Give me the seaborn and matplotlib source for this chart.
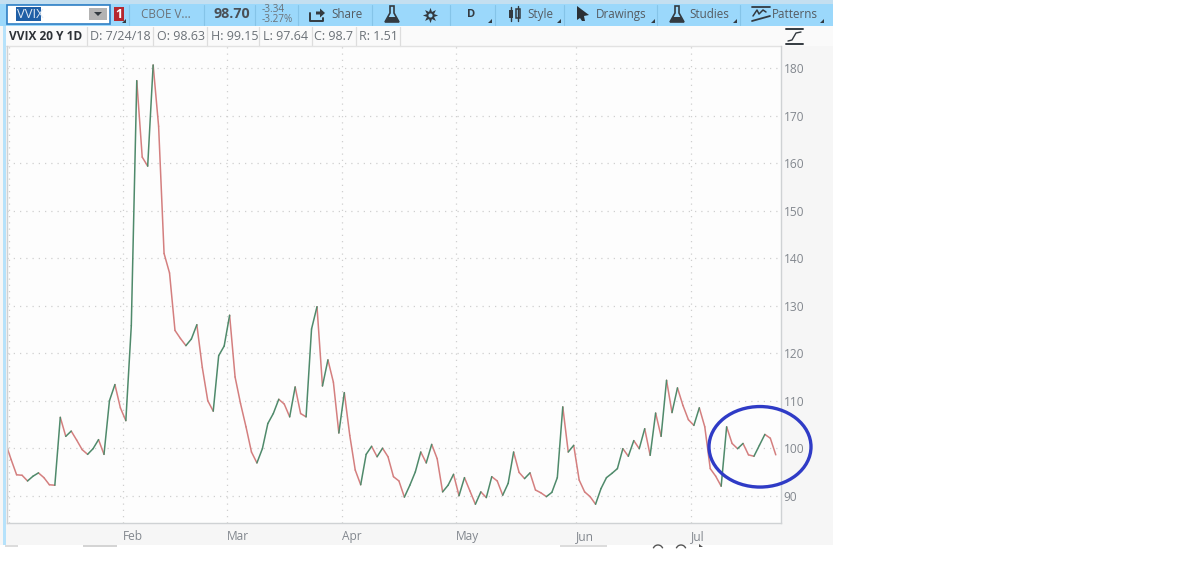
import numpy as np
import pandas as pd
import matplotlib
matplotlib.use('Agg')
import matplotlib.pyplot as plt
import matplotlib.patches as mpatches
import seaborn as sns

# VVIX daily closes
vvix = [101.0, 97.6, 94.4, 94.3, 93.1, 94.1, 94.8, 93.8, 92.3, 92.2,
        106.5, 102.5, 103.6, 101.7, 99.7, 98.7, 99.9, 101.8, 98.7, 110.0,
        113.4, 108.5, 105.8, 125.8, 177.4, 161.3, 159.4, 180.7, 167.8, 141.0,
        136.9, 124.8, 123.1, 121.6, 123.0, 126.0, 117.0, 110.0, 107.8, 119.5,
        121.5, 128.0, 115.0, 109.4, 104.5, 99.2, 96.9, 99.9, 105.2, 107.3,
        110.3, 109.3, 106.6, 112.9, 107.3, 106.6, 125.1, 129.8, 113.1, 118.6,
        113.9, 103.2, 111.7, 102.7, 95.4, 92.3, 98.7, 100.4, 98.2, 100.0,
        98.2, 94.0, 93.1, 89.7, 92.2, 95.0, 99.2, 96.9, 100.8, 97.8,
        90.8, 92.2, 94.5, 90.0, 93.8, 91.0, 88.2, 90.8, 89.6, 94.0,
        93.1, 90.1, 92.6, 99.2, 94.9, 93.6, 94.8, 91.2, 90.6, 89.8,
        90.7, 93.8, 108.7, 99.2, 100.6, 93.3, 90.8, 89.8, 88.2, 91.5,
        93.8, 94.7, 95.7, 99.9, 98.3, 101.6, 99.9, 104.1, 98.5, 107.4,
        102.5, 114.3, 107.5, 112.7, 109.0, 106.0, 104.8, 108.5, 104.5, 95.7,
        94.1, 92.0, 104.5, 101.0, 99.9, 101.0, 98.6, 98.3, 100.6, 102.9,
        102.1, 98.6]
month_labels = ['Feb', 'Mar', 'Apr', 'May', 'Jun', 'Jul']
month_ticks = [21.5, 40.5, 61.5, 82.5, 104.5, 125.5]
y_ticks = [90, 100, 110, 120, 130, 140, 150, 160, 170, 180]

W, H = 1200, 586
UP = '#4f8a6b'
DOWN = '#d47f7f'
GRID = '#cfcfcf'
LABEL = '#82878e'
TEXT = '#6b7177'
BAR = '#9bd8fb'
DARK = '#333a40'

# one pair of rows per segment so that every segment gets its own colour
rows = []
for i in range(len(vvix) - 1):
    d = 'up' if vvix[i + 1] >= vvix[i] else 'down'
    rows.append({'n': i, 'y': vvix[i], 'seg': i, 'dir': d})
    rows.append({'n': i + 1, 'y': vvix[i + 1], 'seg': i, 'dir': d})
df = pd.DataFrame(rows)

sns.set_theme(style='white')
plt.rcParams['font.family'] = ['Open Sans', 'DejaVu Sans']

fig = plt.figure(figsize=(W / 100, H / 100), dpi=100, facecolor='white')

# pixel coordinate layer for the platform chrome
ui = fig.add_axes([0, 0, 1, 1], zorder=0)
ui.set_xlim(0, W)
ui.set_ylim(H, 0)
ui.axis('off')


def box(x0, y0, x1, y1, color, edge='none', lw=0):
    ui.add_patch(mpatches.Rectangle((x0, y0), x1 - x0, y1 - y0, facecolor=color, edgecolor=edge, linewidth=lw))


def poly(pts, color=DARK):
    ui.add_patch(mpatches.Polygon(pts, facecolor=color, edgecolor='none', linewidth=0))


def label(x, y, s, size=8.4, color=TEXT, weight='normal', ha='left'):
    ui.text(x, y, s, fontsize=size, color=color, fontweight=weight, ha=ha, va='center')


def flask(cx):
    ui.add_patch(mpatches.Polygon([(cx - 2, 6), (cx + 2, 6), (cx + 2, 13), (cx + 7, 22), (cx - 7, 22), (cx - 2, 13)],
                                  facecolor='none', edgecolor=DARK, linewidth=1.2))
    poly([(cx - 4, 17), (cx + 4, 17), (cx + 7, 22), (cx - 7, 22)])


def corner(x):
    poly([(x, 23), (x + 4, 23), (x + 4, 19)])


box(0, 0, 833, 545, '#f6f6f6')
box(3, 0, 5.5, 545, '#b6e2fb')
box(0, 0, 833, 4, '#c4dff0')
box(0, 4, 833, 26, BAR)
box(5.5, 26, 833, 46, '#fafafa')
box(7, 46, 781, 523, '#fdfdfd')

# toolbar
box(7, 5, 110, 24, 'white', edge='#2f7fc4', lw=1.2)
box(16, 7, 41, 21, '#1f5fa6')
label(17, 14, 'VVIX', size=9.4, color='#dfe9f4')
box(89, 8, 107, 20, '#b3b3b3')
poly([(94, 12), (102, 12), (98, 16)])
box(114, 7, 124, 21, '#b5282f')
label(119, 14, '1', size=9, color='white', weight='bold', ha='center')
corner(122)
label(141, 14.5, 'CBOE V...')
label(213, 14.5, '98.70', size=10.3, color='#4a4f55', weight='bold')
label(262, 9.5, '-3.34', size=7.2)
label(262, 19, '-3.27%', size=7.2)
ui.add_patch(mpatches.FancyArrow(316, 13, 9, 0, width=3, head_width=9, head_length=5, facecolor=DARK,
                                 edgecolor='none', length_includes_head=True))
ui.plot([310, 310, 323, 323], [13, 21, 21, 18], color=DARK, lw=1.4)
label(331, 14.5, 'Share', color='#555b61')
flask(392)
ui.plot([430], [14.5], marker=(8, 1, 0), ms=11, color=DARK, mec='none')
ui.plot([430], [14.5], marker='o', ms=3, color=BAR, mec='none')
label(471, 14.5, 'D', size=8, color=DARK, weight='bold', ha='center')
corner(488)
box(509, 10, 513, 18, DARK)
box(516, 9, 520, 18, BAR, edge=DARK, lw=1.1)
ui.plot([511, 511], [7, 21], color=DARK, lw=1)
ui.plot([518, 518], [6, 21], color=DARK, lw=1)
label(527, 14.5, 'Style', color='#555b61')
corner(557)
poly([(577, 6), (589, 15), (584, 16), (585, 21), (582, 21), (580, 18), (577, 20)], '#2b3035')
label(596, 14.5, 'Drawings', color='#555b61')
corner(651)
flask(677)
label(689, 14.5, 'Studies', color='#555b61')
corner(733)
ui.plot([752, 770], [6.5, 6.5], color=DARK, lw=1.3)
ui.plot([752, 770], [21, 16], color=DARK, lw=1.3)
ui.plot([753, 757, 759, 763, 766], [16, 10, 14, 10, 12], color=DARK, lw=1.1)
label(772, 14.5, 'Patterns', color='#555b61')
corner(820)
for sx in [129, 204, 255, 298, 372, 450, 495, 564, 657, 740]:
    ui.plot([sx, sx], [5, 25], color='#85c4e8', lw=0.8)

# values row above the plot
label(9, 36.5, 'VVIX 20 Y 1D', size=8.6, color='#2d3136', weight='bold')
for s, x in [('D: 7/24/18', 90), ('O: 98.63', 157), ('H: 99.15', 211), ('L: 97.64', 263), ('C: 98.7', 314), ('R: 1.51', 359)]:
    label(x, 36.5, s, size=9)
for sx in [87, 153, 207, 259, 312, 356, 400]:
    ui.plot([sx, sx], [27, 46], color='#dddddd', lw=0.9)
ui.plot([5.5, 781], [46, 46], color='#e2e2e2', lw=1)

# small scale icon top right
ui.plot([786, 803], [29, 29], color=DARK, lw=1.4)
ui.plot([786, 803], [44, 44], color=DARK, lw=1.4)
ui.plot([788, 792, 796, 801], [41, 40, 33, 32], color=DARK, lw=1)

# scraps of the lower toolbar, cut off by the screenshot
box(5, 545, 18, 546.5, '#dcdcdc')
box(83, 545, 117, 546.5, '#d4d4d4')
box(560, 545, 607, 546.5, '#dcdcdc')
for cx in [658, 681]:
    ui.add_patch(mpatches.Arc((cx, 550), 10, 10, theta1=200, theta2=340, edgecolor='#555555', linewidth=1))
poly([(699, 544), (703, 547), (699, 547)], '#555555')

# the chart itself
ax = fig.add_axes([6.5 / W, 1 - 522.7 / H, (780.7 - 6.5) / W, (522.7 - 46) / H], zorder=1)
ax.patch.set_alpha(0)
sns.lineplot(data=df, x='n', y='y', hue='dir', units='seg', estimator=None, palette={'up': UP, 'down': DOWN},
             legend=False, linewidth=1.1, ax=ax)
ax.set_xlim(0.15, 141.9)
ax.set_ylim(84.31, 184.7)
ax.set_xlabel('')
ax.set_ylabel('')
ax.set_xticks(month_ticks)
ax.set_xticklabels(month_labels, ha='left')
ax.set_yticks(y_ticks)
ax.yaxis.tick_right()
ax.tick_params(axis='both', length=0, labelsize=8.6, labelcolor=LABEL)
ax.tick_params(axis='x', pad=5)
ax.tick_params(axis='y', pad=2)
ax.grid(True, color=GRID, linestyle=(0, (1, 4)), linewidth=0.9)
ax.set_axisbelow(True)
ax.axvline(0.6, color=GRID, linestyle=(0, (1, 4)), linewidth=0.9, zorder=0)
ax.spines['top'].set_visible(False)
for side in ['left', 'right', 'bottom']:
    ax.spines[side].set_color('#cfd2d4')
    ax.spines[side].set_linewidth(1)

# hand drawn ring around the last two weeks
over = fig.add_axes([0, 0, 1, 1], zorder=2)
over.set_xlim(0, W)
over.set_ylim(H, 0)
over.axis('off')
over.add_patch(mpatches.Ellipse((760, 446.8), 102, 80.5, facecolor='none', edgecolor='#2f3bc6', linewidth=2.4))

fig.savefig('out.png', dpi=100, facecolor='white')
